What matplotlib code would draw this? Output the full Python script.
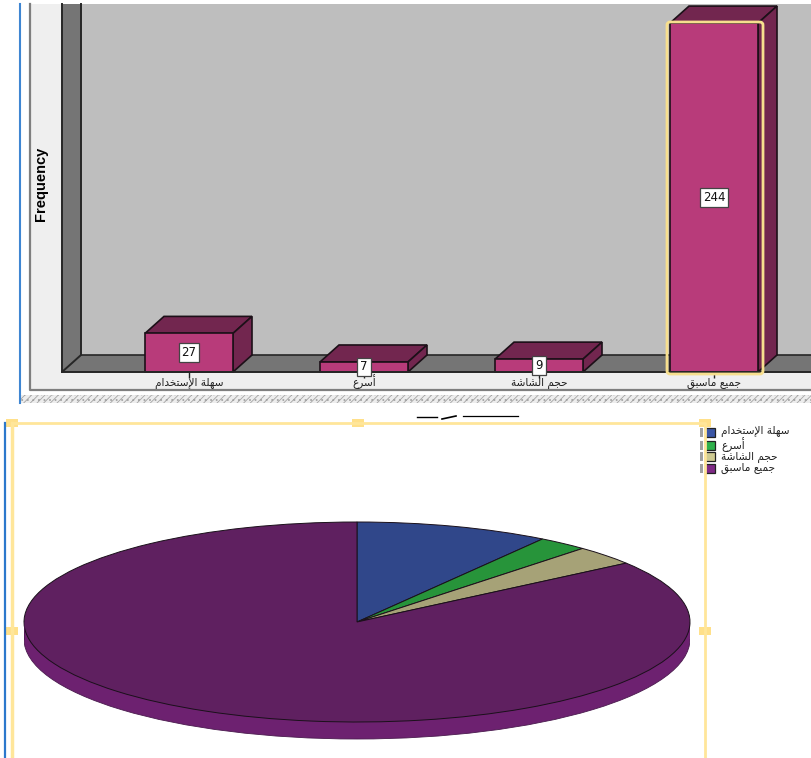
import matplotlib
matplotlib.use('Agg')
import matplotlib.pyplot as plt
from matplotlib.patches import Polygon, Rectangle, FancyBboxPatch, Ellipse

categories = ['سهلة الإستخدام', 'أسرع', 'حجم الشاشة', 'جميع ماسبق']
frequency = [27, 7, 9, 244]
pie_colors = ['#30478A', '#27943A', '#A6A277', '#5F2060']
legend_colors = ['#3A55A5', '#2DB04A', '#CFCB92', '#7F2A86']

W, H = 811, 758

# arabic presentation forms: isolated, final, initial, medial
forms = {
    'ا': (0xFE8D, 0xFE8E), 'أ': (0xFE83, 0xFE84), 'إ': (0xFE87, 0xFE88),
    'د': (0xFEA9, 0xFEAA), 'ر': (0xFEAD, 0xFEAE), 'ة': (0xFE93, 0xFE94),
    'ب': (0xFE8F, 0xFE90, 0xFE91, 0xFE92), 'ت': (0xFE95, 0xFE96, 0xFE97, 0xFE98),
    'ج': (0xFE9D, 0xFE9E, 0xFE9F, 0xFEA0), 'ح': (0xFEA1, 0xFEA2, 0xFEA3, 0xFEA4),
    'خ': (0xFEA5, 0xFEA6, 0xFEA7, 0xFEA8), 'س': (0xFEB1, 0xFEB2, 0xFEB3, 0xFEB4),
    'ش': (0xFEB5, 0xFEB6, 0xFEB7, 0xFEB8), 'ع': (0xFEC9, 0xFECA, 0xFECB, 0xFECC),
    'ق': (0xFED5, 0xFED6, 0xFED7, 0xFED8), 'ل': (0xFEDD, 0xFEDE, 0xFEDF, 0xFEE0),
    'م': (0xFEE1, 0xFEE2, 0xFEE3, 0xFEE4), 'ه': (0xFEE9, 0xFEEA, 0xFEEB, 0xFEEC),
    'ي': (0xFEF1, 0xFEF2, 0xFEF3, 0xFEF4),
}


def shape(word_text):
    # matplotlib does no arabic shaping, so pick the glyph forms by hand
    out = []
    for word in word_text.split(' '):
        word = word.replace('لإ', '\uFEF9')
        glyphs = []
        for i, c in enumerate(word):
            if c == '\uFEF9':
                glyphs.append(c)
                continue
            prev = word[i - 1] if i > 0 else None
            nxt = word[i + 1] if i < len(word) - 1 else None
            joins_prev = prev in forms and len(forms[prev]) == 4
            joins_next = nxt is not None and len(forms[c]) == 4
            if joins_prev and joins_next:
                g = forms[c][3]
            elif joins_prev:
                g = forms[c][1]
            elif joins_next:
                g = forms[c][2]
            else:
                g = forms[c][0]
            glyphs.append(chr(g))
        out.append(''.join(glyphs)[::-1])
    return ' '.join(out[::-1])


labels = [shape(c) for c in categories]

plt.rcParams['hatch.linewidth'] = 0.6
fig = plt.figure(figsize=(W / 100, H / 100), dpi=100, facecolor='white')

# background panels, in pixel coordinates
bg = fig.add_axes([0, 0, 1, 1], zorder=0)
bg.set_xlim(0, W)
bg.set_ylim(H, 0)
bg.axis('off')
bg.add_patch(Rectangle((30, 4), W - 30, 386, fc='#EFEFEF', ec='none'))
bg.plot([30, 30, W], [4, 390, 390], color='#7F7F7F', lw=1.6)
bg.add_patch(Rectangle((20, 395), W - 20, 8, fc='#EDEDED', ec='#A5A5A5', lw=0, hatch='/////...'))
bg.plot([20, 20], [4, 403], color='#3F86D2', lw=1.5)
bg.add_patch(Polygon([(62, 4), (81, 4), (81, 355), (62, 372)], fc='#757575', ec='none'))
bg.add_patch(Rectangle((81, 4), W - 81, 351, fc='#BEBEBE', ec='none'))
bg.add_patch(Polygon([(62, 372), (81, 355), (W, 355), (W, 372)], fc='#757575', ec='none'))
bg.plot([62, 62, 81, 81], [4, 372, 355, 4], color='#262626', lw=1.4)
bg.plot([81, W], [355, 355], color='#262626', lw=1.2)

# bar chart: 175 px per category, 1.43 px per count
px_x, px_y = 175, 1.43
ax = fig.add_axes([0, (H - 403) / H, 1, 399 / H], zorder=1)
ax.patch.set_alpha(0)
ax.set_xlim((0 - 189) / px_x, (W - 189) / px_x)
ax.set_ylim((372 - 403) / px_y, (372 - 4) / px_y)
dx, dy = 19 / px_x, 17 / px_y
half = 44 / px_x
x_pos = list(range(len(frequency)))
for x, v in zip(x_pos, frequency):
    ax.add_patch(Polygon([(x - half, v), (x - half + dx, v + dy), (x + half + dx, v + dy), (x + half, v)],
                         fc='#72264F', ec='#1C1018', lw=1.2))
    ax.add_patch(Polygon([(x + half, 0), (x + half + dx, dy), (x + half + dx, v + dy), (x + half, v)],
                         fc='#72264F', ec='#1C1018', lw=1.2))
ax.bar(x_pos, frequency, width=2 * half, color='#B83B7A', edgecolor='#1C1018', linewidth=1.2, zorder=2)
for x, v in zip(x_pos, frequency):
    ax.text(x, v / 2, str(v), ha='center', va='center', fontsize=8.5, color='#111111', zorder=4,
            bbox=dict(boxstyle='square,pad=0.25', fc='white', ec='#444444', lw=0.9))
for s in ['top', 'left', 'right']:
    ax.spines[s].set_visible(False)
ax.spines['bottom'].set_position(('data', 0))
ax.spines['bottom'].set_color('#262626')
ax.spines['bottom'].set_linewidth(1.4)
ax.spines['bottom'].set_bounds((62 - 189) / px_x, (W - 189) / px_x)
ax.set_yticks([])
ax.set_xticks(x_pos, labels, fontsize=7.6, family='DejaVu Sans', color='#222222')
ax.tick_params(axis='x', length=4, width=1, color='#222222', pad=6)
for lbl in ax.get_xticklabels():
    lbl.set_va('baseline')
ax.set_ylabel('Frequency', family='Liberation Sans', fontweight='bold', fontsize=10.5)
ax.yaxis.set_label_coords(48 / W, (403 - 184) / 399)

# pie chart, squashed to 666x200 px, with a 17 px rim below it
pie_ax = fig.add_axes([24 / W, (H - 742) / H, 666 / W, 222 / H], zorder=1)
rim = 0.17
pie_ax.add_patch(Ellipse((0, -rim), 2, 2, fc='#6D2170', ec='#4A1A4E', lw=0.6))
pie_ax.add_patch(Rectangle((-1, -rim), 2, rim, fc='#6D2170', ec='none'))
pie_ax.pie(frequency, colors=pie_colors, startangle=90, counterclock=False, radius=1,
           wedgeprops=dict(edgecolor='#1A101A', linewidth=0.7))
pie_ax.plot([-1, -1], [0, -rim], color='#4A1A4E', lw=0.6)
pie_ax.plot([1, 1], [0, -rim], color='#4A1A4E', lw=0.6)
pie_ax.set_aspect('auto')
pie_ax.set_xlim(-1, 1)
pie_ax.set_ylim(-1.2, 1.02)

# selection frames, legend and the cropped title, in pixel coordinates
fg = fig.add_axes([0, 0, 1, 1], zorder=3)
fg.patch.set_alpha(0)
fg.set_xlim(0, W)
fg.set_ylim(H, 0)
fg.axis('off')
yellow = '#FFE69A'
fg.add_patch(FancyBboxPatch((667, 22), 96, 352, boxstyle='round,pad=0,rounding_size=3',
                            fc='none', ec='#F7DF8E', lw=2))
fg.plot([5, 5], [423, H], color='#2C78CC', lw=1.6)
fg.plot([12, 705, 705], [423, 423, H], color=yellow, lw=2)
fg.plot([12, 12], [423, H], color=yellow, lw=2.5)
for hx, hy in [(12, 423), (358, 423), (705, 423), (12, 631), (705, 631)]:
    fg.add_patch(Rectangle((hx - 6, hy - 4), 12, 8, fc='#FFE08A', ec='none'))
fg.plot([417, 437], [417, 417], color='black', lw=1)
fg.plot([442, 456], [419, 416], color='black', lw=1.2)
fg.plot([463, 518], [416, 416], color='black', lw=0.9)

leg_y = [432.5, 445, 456.5, 468]
text_y = [434, 449, 460, 471]
for y, ty, c, lab in zip(leg_y, text_y, legend_colors, labels):
    fg.add_patch(Rectangle((700, y - 4.5), 3, 9, fc='#A0A0A0', ec='none'))
    fg.add_patch(Rectangle((705, y - 4.5), 10, 9, fc=c, ec='#222222', lw=0.9))
    fg.text(721, ty, lab, ha='left', va='baseline', fontsize=7.6, family='DejaVu Sans', color='#222222')

fig.savefig('out.png', dpi=100)
